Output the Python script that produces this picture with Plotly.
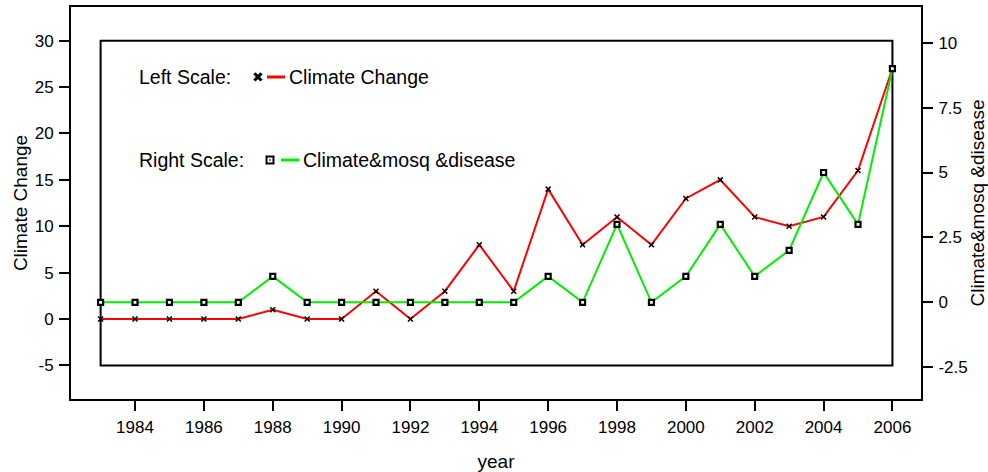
import plotly.graph_objects as go

years = list(range(1983, 2007))
climate_change = [0, 0, 0, 0, 0, 1, 0, 0, 3, 0, 3, 8, 3, 14, 8, 11, 8, 13, 15, 11, 10, 11, 16, 27]
climate_mosq_disease = [0, 0, 0, 0, 0, 1, 0, 0, 0, 0, 0, 0, 0, 1, 0, 3, 0, 1, 3, 1, 2, 5, 3, 9]

left_ticks = [-5, 0, 5, 10, 15, 20, 25, 30]
left_tick_labels = ["-5", "0", "5", "10", "15", "20", "25", "30"]
right_ticks = [-2.5, 0, 2.5, 5, 7.5, 10]
right_tick_labels = ["-2.5", "0", "2.5", "5", "7.5", "10"]
x_ticks = list(range(1984, 2007, 2))

FONT = "Liberation Sans, Arial, Helvetica, sans-serif"
LEG = 19.5

fig = go.Figure()

fig.add_trace(go.Scatter(
    x=years, y=climate_mosq_disease, yaxis="y2", mode="lines+markers",
    line=dict(color="#00ee00", width=2),
    marker=dict(symbol="square", size=5, color="white", line=dict(width=2.2, color="black")),
    showlegend=False, name="Climate&mosq &disease"))

fig.add_trace(go.Scatter(
    x=years, y=climate_change, mode="lines+markers",
    line=dict(color="#ff0000", width=2),
    marker=dict(symbol="x-thin", size=5, color="black", line=dict(width=1.5, color="black")),
    showlegend=False, name="Climate Change"))

L, R, T, B = 71, 67, 7, 73
W, H = 988, 472
pw, ph = W - L - R, H - T - B

def px(x):
    return (x - L) / pw

def py(y):
    return 1 - (y - T) / ph

shapes = [
    dict(type="rect", xref="x", yref="y", x0=years[0], x1=years[-1],
         y0=left_ticks[0], y1=left_ticks[-1], line=dict(color="black", width=2), layer="below"),
    # legend line samples
    dict(type="line", xref="paper", yref="paper", x0=px(267), x1=px(285), y0=py(77), y1=py(77),
         line=dict(color="#ff0000", width=3)),
    dict(type="line", xref="paper", yref="paper", x0=px(281), x1=px(299), y0=py(160), y1=py(160),
         line=dict(color="#00ee00", width=3)),
    dict(type="rect", xref="paper", yref="paper", x0=px(266.5), x1=px(273.5), y0=py(163.5), y1=py(156.5),
         line=dict(color="black", width=2), fillcolor="white"),
    dict(type="rect", xref="paper", yref="paper", x0=px(269.3), x1=px(270.7), y0=py(160.7), y1=py(159.3),
         line=dict(color="black", width=0), fillcolor="black"),
]

annotations = [
    dict(text="Left Scale:", xref="paper", yref="paper", x=px(137), y=py(77), xanchor="left", yanchor="middle",
         showarrow=False, font=dict(family=FONT, size=LEG, color="black")),
    dict(text="✖", xref="paper", yref="paper", x=px(258), y=py(77), xanchor="center", yanchor="middle",
         showarrow=False, font=dict(family="DejaVu Sans", size=14, color="black")),
    dict(text="Climate Change", xref="paper", yref="paper", x=px(287), y=py(77), xanchor="left", yanchor="middle",
         showarrow=False, font=dict(family=FONT, size=LEG, color="black")),
    dict(text="Right Scale:", xref="paper", yref="paper", x=px(137), y=py(160), xanchor="left", yanchor="middle",
         showarrow=False, font=dict(family=FONT, size=LEG, color="black")),
    dict(text="Climate&mosq &disease", xref="paper", yref="paper", x=px(301), y=py(160), xanchor="left",
         yanchor="middle", showarrow=False, font=dict(family=FONT, size=LEG, color="black")),
]

axis_common = dict(showgrid=False, zeroline=False, showline=True, linecolor="black", linewidth=2,
                   ticks="outside", ticklen=10, tickwidth=2, tickcolor="black", automargin=False,
                   tickfont=dict(family=FONT, size=17, color="black"))

fig.update_layout(
    width=W, height=H,
    margin=dict(l=L, r=R, t=T, b=B, autoexpand=False),
    paper_bgcolor="white", plot_bgcolor="white",
    font=dict(family=FONT, color="black"),
    xaxis=dict(range=[1982.14, 2006.83], tickvals=x_ticks, mirror=True, ticklabelstandoff=2,
               title=dict(text="year", font=dict(family=FONT, size=19), standoff=18),
               **axis_common),
    yaxis=dict(range=[-8.62, 33.63], tickvals=left_ticks, ticktext=left_tick_labels, ticklabelstandoff=2,
               title=dict(text="Climate Change", font=dict(family=FONT, size=19), standoff=2),
               **axis_common),
    yaxis2=dict(range=[-3.725, 11.375], tickvals=right_ticks, ticktext=right_tick_labels,
                overlaying="y", side="right", ticklabelstandoff=2,
                title=dict(text="Climate&mosq &disease", font=dict(family=FONT, size=19), standoff=9),
                **axis_common),
    shapes=shapes,
    annotations=annotations,
)

fig.write_html("out.html", config={"displayModeBar": False},
               post_script="document.body.style.margin='0';")
